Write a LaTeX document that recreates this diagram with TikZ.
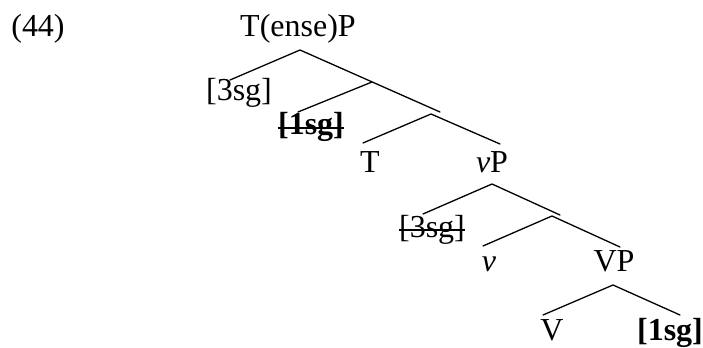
\documentclass[tikz,border=0pt]{standalone}
\usepackage{fontspec}
\setmainfont{Liberation Serif}
\definecolor{treeInk}{HTML}{000000}
\tikzset{
  every picture/.style={font=\fontsize{16}{19}\selectfont, text=treeInk},
  tree label/.style={inner sep=0pt, anchor=base},
  tree edge/.style={draw=treeInk, line width=0.65pt, line cap=round},
  strike/.style={draw=treeInk, line width=0.75pt}
}

\begin{document}
\begin{tikzpicture}[x=0.5pt,y=-0.5pt]
  \useasboundingbox (0,0) rectangle (703,348);
  \node[tree label] (ex) at (38,37) {(44)};
  \node[tree label] (TP) at (298,37) {T(ense)P};
  \node[tree label] (spec) at (239,100) {[3sg]};
  \node[tree label] (probe) at (311,134) {\textbf{[1sg]}};
  \node[tree label] (T) at (370,172) {T};
  \node[tree label] (vP) at (492,172) {\textit{v}P};
  \node[tree label] (vspec) at (432,237) {[3sg]};
  \node[tree label] (v) at (489,271) {\textit{v}};
  \node[tree label] (VP) at (614,271) {VP};
  \node[tree label] (V) at (552,340) {V};
  \node[tree label] (goal) at (670,340) {\textbf{[1sg]}};
  \coordinate (tp) at (300,50); \coordinate (tpL) at (230,80); \coordinate (tpR) at (440,112);
  \coordinate (tb) at (372,82); \coordinate (tbL) at (298,112);
  \coordinate (tc) at (431,114); \coordinate (tcL) at (363,143); \coordinate (tcR) at (500,144);
  \coordinate (vp) at (492,184); \coordinate (vpL) at (423,214); \coordinate (vpR) at (560,215);
  \coordinate (vb) at (552,216); \coordinate (vbL) at (483,246); \coordinate (vbR) at (620,247);
  \coordinate (VPt) at (613,285); \coordinate (VPL) at (543,315); \coordinate (VPR) at (680,315);
  \draw[tree edge] (tpL) -- (tp) -- (tpR);
  \draw[tree edge] (tb) -- (tbL);
  \draw[tree edge] (tcL) -- (tc) -- (tcR);
  \draw[tree edge] (vpL) -- (vp) -- (vpR);
  \draw[tree edge] (vbL) -- (vb) -- (vbR);
  \draw[tree edge] (VPL) -- (VPt) -- (VPR);
  \draw[strike,line width=1pt] ([yshift=3pt]probe.base west) -- ([yshift=3pt]probe.base east);
  \draw[strike] ([yshift=3.5pt]vspec.base west) -- ([yshift=3.5pt]vspec.base east);
\end{tikzpicture}
\end{document}
